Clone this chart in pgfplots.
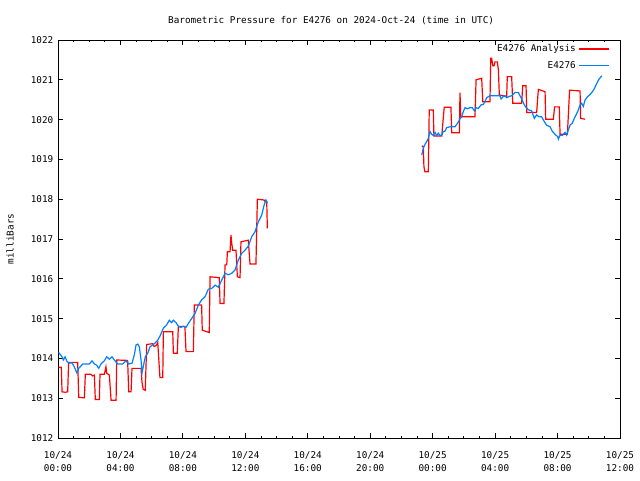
\documentclass[border=0pt]{standalone}
\usepackage{fontspec}
\setmonofont{DejaVu Sans Mono}
\usepackage{pgfplots}
\pgfplotsset{compat=1.18}
\definecolor{gpblue}{RGB}{0,128,255}
\definecolor{gpred}{RGB}{255,0,0}
\begin{document}
\begin{tikzpicture}
\begin{axis}[
  scale only axis,
  width=421.5pt, height=298.5pt,
  xmin=0, xmax=36, ymin=1012, ymax=1022,
  xtick={0,4,...,36},
  minor x tick num=3,
  ytick={1012,1013,...,1022},
  xticklabels={{10/24\\00:00},{10/24\\04:00},{10/24\\08:00},{10/24\\12:00},{10/24\\16:00},{10/24\\20:00},{10/25\\00:00},{10/25\\04:00},{10/25\\08:00},{10/25\\12:00}},
  xticklabel style={align=center, font=\ttfamily\fontsize{7pt}{9.6pt}\selectfont, yshift=-6.5pt},
  yticklabel style={font=\ttfamily\fontsize{7pt}{8.6pt}\selectfont},
  /pgf/number format/assume math mode=true,
  /pgf/number format/1000 sep={},
  major tick length=3.5pt, minor tick length=1.8pt,
  tick align=inside,
  every tick/.style={black, line width=0.6pt},
  axis line style={black, line width=0.75pt},
  title={Barometric Pressure for E4276 on 2024-Oct-24 (time in UTC)},
  title style={font=\ttfamily\fontsize{7pt}{8.6pt}\selectfont, at={(axis description cs:0.486,1)}, anchor=center, yshift=8.5pt},
  ylabel={milliBars},
  ylabel style={font=\ttfamily\fontsize{7pt}{8.6pt}\selectfont, at={(axis description cs:-0.0854,0.5)}, anchor=center},
  legend style={draw=none, fill=none, font=\ttfamily\fontsize{7pt}{8.6pt}\selectfont, at={(axis description cs:0.982,0.996)}, anchor=north east, row sep=1.8pt, inner sep=0pt},
  legend cell align=right,
  legend plot pos=right,
  legend image code/.code={\draw[#1] (0pt,0pt) -- (22.5pt,0pt);},
]
\coordinate (bl) at (rel axis cs:0,0);
\coordinate (tr) at (rel axis cs:1,1);
\addplot[gpred, line width=0.9pt] coordinates {
(0.04,1013.78) (0.21,1013.78) (0.26,1013.16) (0.47,1013.15) (0.62,1013.16) (0.68,1013.90)
(1.26,1013.90) (1.33,1013.02) (1.69,1013.01) (1.75,1013.60) (2.11,1013.60) (2.22,1013.56)
(2.33,1013.58) (2.39,1012.97) (2.65,1012.97) (2.69,1013.60) (2.97,1013.60) (3.07,1013.79)
(3.12,1013.63) (3.29,1013.58) (3.40,1012.95) (3.72,1012.95) (3.76,1013.96) (4.46,1013.95)
(4.53,1013.16) (4.68,1013.16) (4.74,1013.75) (5.32,1013.75) (5.38,1013.40) (5.46,1013.22)
(5.59,1013.20) (5.68,1014.35) (6.07,1014.37) (6.15,1014.30) (6.28,1014.32) (6.39,1014.40)
(6.53,1013.52) (6.71,1013.52) (6.75,1014.67) (7.35,1014.67) (7.39,1014.13) (7.64,1014.13)
(7.71,1014.80) (8.13,1014.80) (8.20,1014.17) (8.67,1014.17) (8.73,1015.34) (9.20,1015.34)
(9.24,1014.71) (9.69,1014.65) (9.74,1016.05) (10.33,1016.03) (10.38,1015.38) (10.63,1015.38)
(10.70,1016.35) (10.81,1016.35) (10.85,1016.68) (11.02,1016.68) (11.08,1017.10) (11.13,1016.89)
(11.19,1016.72) (11.40,1016.72) (11.49,1016.05) (11.66,1016.03) (11.72,1016.93) (12.19,1016.97)
(12.30,1016.37) (12.68,1016.37) (12.77,1018.00) (13.20,1017.98) (13.26,1017.94) (13.37,1017.94)
(13.41,1017.27)
};
\addlegendentry{E4276 Analysis}
\addplot[gpblue, line width=0.9pt] coordinates {
(0.04,1014.15) (0.26,1014.04) (0.34,1013.96) (0.45,1014.04) (0.58,1013.92) (0.72,1013.88)
(0.90,1013.89) (1.04,1013.79) (1.20,1013.64) (1.33,1013.75) (1.47,1013.81) (1.58,1013.86)
(2.01,1013.86) (2.18,1013.94) (2.33,1013.86) (2.48,1013.83) (2.61,1013.75) (2.75,1013.86)
(2.97,1013.94) (3.12,1014.04) (3.29,1013.98) (3.46,1014.04) (3.61,1013.96) (3.82,1013.86)
(4.14,1013.86) (4.36,1013.94) (4.53,1013.86) (4.74,1013.88) (4.89,1014.09) (5.00,1014.34)
(5.11,1014.36) (5.21,1014.29) (5.32,1013.96) (5.38,1013.63) (5.46,1013.79) (5.59,1014.04)
(5.75,1014.13) (5.89,1014.29) (6.07,1014.34) (6.23,1014.39) (6.39,1014.46) (6.53,1014.56)
(6.75,1014.76) (6.96,1014.84) (7.13,1014.96) (7.28,1014.90) (7.39,1014.96) (7.56,1014.90)
(7.71,1014.81) (7.86,1014.78) (8.03,1014.81) (8.20,1014.78) (8.35,1014.88) (8.56,1015.00)
(8.78,1015.13) (8.99,1015.34) (9.20,1015.47) (9.42,1015.55) (9.63,1015.74) (9.85,1015.76)
(10.06,1015.84) (10.27,1015.79) (10.49,1015.97) (10.70,1016.14) (10.91,1016.10) (11.13,1016.14)
(11.34,1016.22) (11.55,1016.47) (11.77,1016.64) (11.98,1016.72) (12.19,1016.82) (12.41,1017.06)
(12.62,1017.18) (12.83,1017.43) (13.05,1017.60) (13.20,1017.85) (13.32,1017.98) (13.41,1017.90)
};
\addlegendentry{E4276}
\addplot[gpred, line width=0.9pt, forget plot] coordinates {
(23.30,1019.34) (23.40,1019.32) (23.44,1018.82) (23.50,1018.69) (23.72,1018.69) (23.78,1020.24)
(24.04,1020.24) (24.08,1019.59) (24.58,1019.59) (24.74,1020.31) (25.17,1020.31) (25.22,1019.67)
(25.71,1019.67) (25.75,1020.68) (25.80,1020.07) (26.71,1020.07) (26.78,1021.00) (27.14,1021.04)
(27.21,1020.45) (27.67,1020.45) (27.72,1021.54) (27.78,1021.54) (27.85,1021.35) (27.93,1021.35)
(27.99,1021.45) (28.14,1021.45) (28.21,1021.25) (28.27,1020.62) (28.74,1020.58) (28.78,1021.08)
(29.06,1021.08) (29.13,1020.41) (29.70,1020.41) (29.77,1020.85) (29.98,1020.85) (30.03,1020.18)
(30.66,1020.18) (30.77,1020.76) (31.20,1020.70) (31.24,1020.01) (31.73,1020.01) (31.81,1020.32)
(32.11,1020.32) (32.16,1019.63) (32.63,1019.63) (32.77,1020.74) (33.44,1020.72) (33.48,1020.03)
(33.76,1020.01)
};
\addplot[gpblue, line width=0.9pt, forget plot] coordinates {
(23.30,1019.11) (23.40,1019.28) (23.51,1019.38) (23.62,1019.45) (23.72,1019.53) (23.83,1019.70)
(23.94,1019.63) (24.04,1019.60) (24.15,1019.68) (24.26,1019.60) (24.36,1019.66) (24.47,1019.60)
(24.58,1019.61) (24.68,1019.70) (24.79,1019.71) (24.90,1019.80) (25.11,1019.82) (25.43,1019.82)
(25.60,1019.91) (25.75,1020.02) (25.86,1020.07) (25.96,1020.20) (26.07,1020.30) (26.24,1020.27)
(26.39,1020.30) (26.54,1020.30) (26.67,1020.22) (26.78,1020.30) (26.92,1020.28) (27.10,1020.37)
(27.24,1020.38) (27.35,1020.45) (27.46,1020.55) (27.67,1020.60) (27.99,1020.60) (28.31,1020.60)
(28.38,1020.52) (28.52,1020.58) (28.63,1020.60) (28.74,1020.55) (28.89,1020.58) (29.06,1020.60)
(29.27,1020.68) (29.49,1020.68) (29.66,1020.55) (29.74,1020.49) (29.87,1020.37) (30.03,1020.28)
(30.17,1020.24) (30.34,1020.22) (30.51,1020.03) (30.66,1020.12) (30.81,1020.07) (30.98,1020.07)
(31.15,1019.95) (31.30,1019.86) (31.52,1019.82) (31.66,1019.71) (31.84,1019.63) (32.01,1019.57)
(32.05,1019.51) (32.16,1019.61) (32.30,1019.60) (32.48,1019.68) (32.58,1019.61) (32.69,1019.74)
(32.80,1019.86) (32.94,1019.91) (33.12,1020.07) (33.29,1020.20) (33.44,1020.37) (33.55,1020.41)
(33.65,1020.33) (33.76,1020.49) (33.93,1020.58) (34.08,1020.63) (34.23,1020.70) (34.36,1020.78)
(34.51,1020.91) (34.66,1021.02) (34.83,1021.10)
};
\end{axis}
\pgfresetboundingbox
\path[use as bounding box] ([shift={(-43.5pt,-31.5pt)}]bl) rectangle ([shift={(15pt,30pt)}]tr);
\end{tikzpicture}
\end{document}
